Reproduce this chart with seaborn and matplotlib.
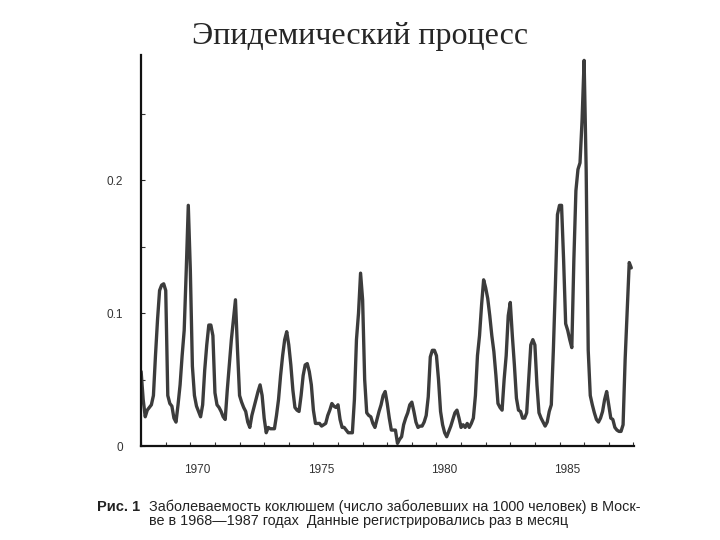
import numpy as np
import pandas as pd
import matplotlib
matplotlib.use("Agg")
import matplotlib.pyplot as plt
import seaborn as sns

# Monthly incidence of whooping cough in Moscow, 1968-1987 (per 1000 people)
start_year = 1968
values = [
    # 1968
    0.056, 0.035, 0.022, 0.027, 0.029, 0.031, 0.038, 0.068, 0.095, 0.117, 0.121, 0.122,
    # 1969
    0.117, 0.038, 0.032, 0.030, 0.021, 0.018, 0.031, 0.046, 0.068, 0.087, 0.132, 0.181,
    # 1970
    0.132, 0.060, 0.038, 0.030, 0.026, 0.022, 0.031, 0.057, 0.076, 0.091, 0.091, 0.083,
    # 1971
    0.040, 0.031, 0.029, 0.026, 0.022, 0.020, 0.042, 0.061, 0.080, 0.095, 0.110, 0.072,
    # 1972
    0.038, 0.033, 0.029, 0.026, 0.018, 0.014, 0.023, 0.029, 0.035, 0.041, 0.046, 0.038,
    # 1973
    0.021, 0.010, 0.014, 0.013, 0.013, 0.013, 0.023, 0.035, 0.053, 0.068, 0.080, 0.086,
    # 1974
    0.076, 0.061, 0.042, 0.029, 0.027, 0.026, 0.038, 0.053, 0.061, 0.062, 0.056, 0.046,
    # 1975
    0.027, 0.017, 0.017, 0.017, 0.015, 0.016, 0.017, 0.023, 0.027, 0.032, 0.030, 0.029,
    # 1976
    0.031, 0.020, 0.014, 0.014, 0.012, 0.010, 0.010, 0.010, 0.035, 0.080, 0.100, 0.130,
    # 1977
    0.110, 0.050, 0.025, 0.023, 0.022, 0.017, 0.014, 0.020, 0.026, 0.031, 0.038, 0.041,
    # 1978
    0.032, 0.021, 0.012, 0.012, 0.012, 0.002, 0.005, 0.007, 0.016, 0.021, 0.025, 0.031,
    # 1979
    0.033, 0.026, 0.018, 0.014, 0.015, 0.015, 0.018, 0.023, 0.037, 0.067, 0.072, 0.072,
    # 1980
    0.068, 0.050, 0.026, 0.016, 0.010, 0.007, 0.011, 0.015, 0.020, 0.025, 0.027, 0.021,
    # 1981
    0.014, 0.016, 0.014, 0.017, 0.014, 0.017, 0.021, 0.038, 0.068, 0.083, 0.106, 0.125,
    # 1982
    0.119, 0.111, 0.098, 0.083, 0.071, 0.053, 0.032, 0.029, 0.027, 0.050, 0.068, 0.098,
    # 1983
    0.108, 0.083, 0.061, 0.036, 0.027, 0.026, 0.021, 0.021, 0.025, 0.050, 0.076, 0.080,
    # 1984
    0.076, 0.046, 0.025, 0.021, 0.018, 0.015, 0.018, 0.026, 0.031, 0.072, 0.121, 0.174,
    # 1985
    0.181, 0.181, 0.140, 0.092, 0.087, 0.080, 0.074, 0.140, 0.192, 0.208, 0.213, 0.245,
    # 1986
    0.290, 0.208, 0.072, 0.038, 0.031, 0.025, 0.020, 0.018, 0.021, 0.026, 0.035, 0.041,
    # 1987
    0.031, 0.021, 0.020, 0.014, 0.012, 0.011, 0.011, 0.016, 0.065, 0.102, 0.138, 0.134,
]
year_ticks = list(range(1968, 1989))
year_labels = [1970, 1975, 1980, 1985]
y_major = [0.0, 0.1, 0.2]
y_major_labels = ["0", "0.1", "0.2"]
y_minor = [0.05, 0.15, 0.25]

title = "Эпидемический процесс"
caption_bold = "Рис. 1"
caption_line1 = "Заболеваемость коклюшем (число заболевших на 1000 человек) в Моск-"
caption_line2 = "ве в 1968—1987 годах  Данные регистрировались раз в месяц"

df = pd.DataFrame({
    "t": [start_year + i / 12 for i in range(len(values))],
    "v": values,
})

sns.set_style("ticks")
plt.rcParams["font.family"] = ["Liberation Sans", "DejaVu Sans"]

fig = plt.figure(figsize=(7.2, 5.4), dpi=100)
ax = fig.add_axes([0.196, 0.174, 0.685, 0.724])

sns.lineplot(data=df, x="t", y="v", ax=ax, color="#3c3c3c", linewidth=2.4)

ax.set_xlim(1968, 1988.04)
ax.set_ylim(0, 0.294)
sns.despine(ax=ax)
for s in ("left", "bottom"):
    ax.spines[s].set_linewidth(1.6)
    ax.spines[s].set_color("#111111")

ax.set_xticks(year_ticks, minor=True)
ax.set_xticks([y + 0.3 for y in year_labels], [str(y) for y in year_labels])
ax.tick_params(axis="x", which="major", length=0, pad=13, labelsize=8.5, labelcolor="#333333")
ax.tick_params(axis="x", which="minor", direction="in", length=3, width=0.8, color="#333333")

ax.set_yticks(y_major, y_major_labels)
ax.set_yticks(y_minor, minor=True)
ax.tick_params(axis="y", which="major", direction="in", length=3, width=0.8,
               pad=13, labelsize=8.5, labelcolor="#333333")
ax.tick_params(axis="y", which="minor", direction="in", length=3, width=0.8, color="#333333")

ax.set_xlabel("")
ax.set_ylabel("")

fig.text(0.5, 0.933, title, ha="center", va="center", fontsize=23,
         family=["Liberation Serif", "DejaVu Serif"])

fig.text(0.135, 0.061, caption_bold, ha="left", va="center", fontsize=10.5,
         fontweight="bold", color="#222222")
fig.text(0.207, 0.061, caption_line1, ha="left", va="center", fontsize=10.4, color="#222222")
fig.text(0.207, 0.035, caption_line2, ha="left", va="center", fontsize=10.4, color="#222222")

fig.savefig("out.png", dpi=100)
